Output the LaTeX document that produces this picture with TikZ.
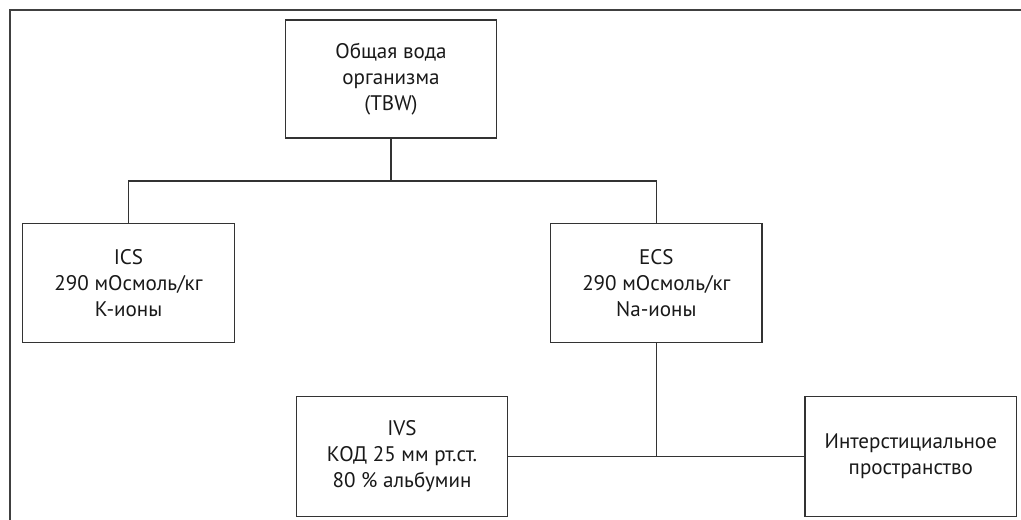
\documentclass[tikz,border=0pt]{standalone}
\usepackage{fontspec}
\setmainfont{PT Sans}
\usetikzlibrary{positioning}
\tikzset
{
    spacenode/.style = {rectangle, draw=black!80, line width=0.8pt, align=center, minimum width=4.23cm, minimum height=2.39cm, inner sep=0pt, text=black!90, font=\fontsize{12}{14.8}\selectfont},
    joinline/.style  = {draw=black!80, line width=0.8pt},
    framelline/.style = {draw=black!75, line width=1pt}
}

\begin{document}
\begin{tikzpicture}[x=0.02cm, y=-0.02cm]
\useasboundingbox (0,0) rectangle (1021,520);
\draw[framelline] (10,520) -- (10,10) -- (1021,10);
\node[spacenode, minimum height=2.36cm] (tbw) at (391,79) {Общая вода\\организма\\(TBW)};
\node[spacenode] (ics) at (128.5,283) {ICS\\290 мОсмоль/кг\\К-ионы};
\node[spacenode, right=6.3cm of ics] (ecs) {ECS\\290 мОсмоль/кг\\Na-ионы};
\node[spacenode] (ivs) at (402,456.5) {IVS\\КОД 25 мм рт.ст.\\80 \% альбумин};
\node[spacenode, right=5.92cm of ivs] (int) {Интерстициальное\\пространство};
\coordinate (bus) at (391,181);
\draw[joinline] (tbw.south) -- (bus);
\draw[joinline] (ics.north) |- (bus) -| (ecs.north);
\draw[joinline] (ivs.east) -- (int.west);
\draw[joinline] (ecs.south) -- (ecs.south |- ivs.east);
\end{tikzpicture}
\end{document}
